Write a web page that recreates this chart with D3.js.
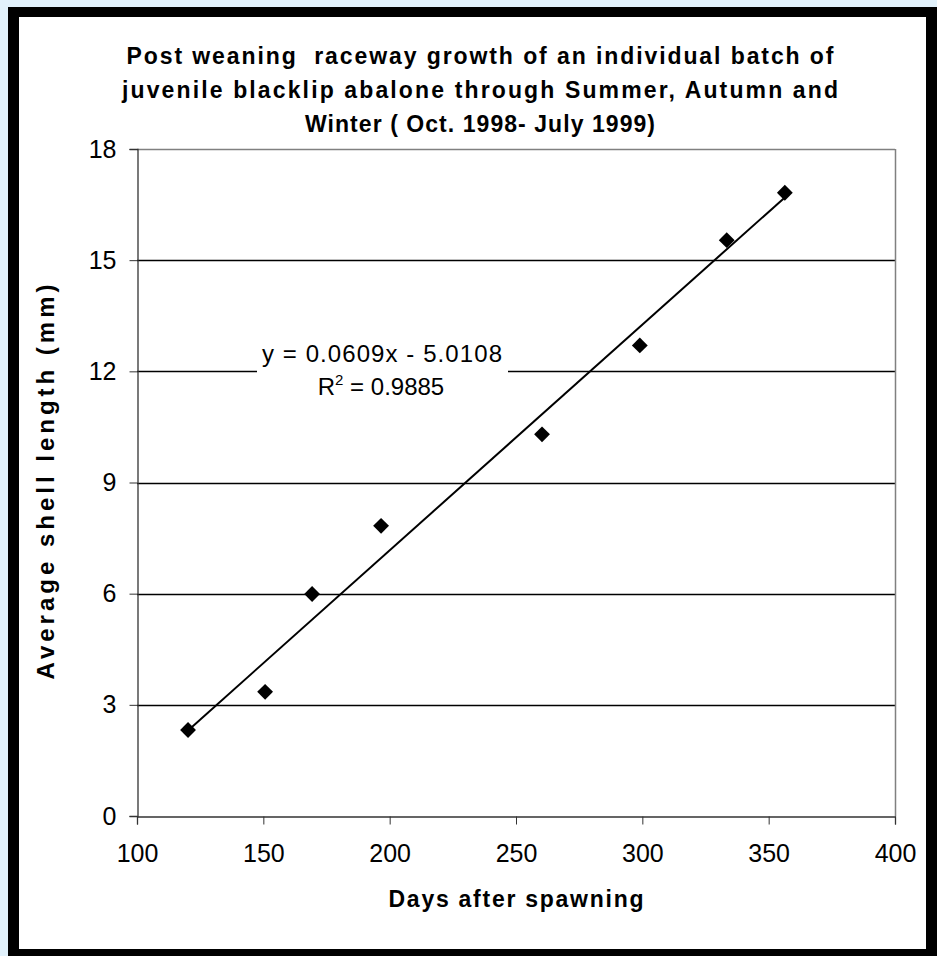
<!DOCTYPE html>
<html>
<head>
<meta charset="utf-8">
<script src="https://cdn.jsdelivr.net/npm/d3@7"></script>
<style>
body { margin:0; padding:0; background:#e1f1fb; }
svg { display:block; }
</style>
</head>
<body>
<div id="chartplace"></div>
<script>
// data
var days = [120.2, 150.7, 169.3, 196.6, 260.3, 299, 333.4, 356.4];
var shell = [2.32, 3.35, 5.99, 7.83, 10.3, 12.7, 15.54, 16.82];
var xTicks = [100, 150, 200, 250, 300, 350, 400];
var yTicks = [0, 3, 6, 9, 12, 15, 18];
var slope = 0.0609, intercept = -5.0108, rsq = 0.9885;
var titleLines = ["Post weaning  raceway growth of an individual batch of",
  "juvenile blacklip abalone through Summer, Autumn and",
  "Winter ( Oct. 1998- July 1999)"];

var width = 937, height = 956;
var font = "'Liberation Sans', Arial, sans-serif";
var svg = d3.select("#chartplace").append("svg")
  .attr("width", width).attr("height", height)
  .style("font-family", font);

// frame
svg.append("rect").attr("x", 0).attr("y", 0).attr("width", width).attr("height", height).attr("fill", "#e1f1fb");
svg.append("rect").attr("x", 8).attr("y", 7).attr("width", width - 8).attr("height", height - 7).attr("fill", "#000");
svg.append("rect").attr("x", 19).attr("y", 17).attr("width", 907).attr("height", 932).attr("fill", "#fff");

var x = d3.scaleLinear().domain([100, 400]).range([137, 895]);
var y = d3.scaleLinear().domain([0, 18]).range([816, 149]);

// gridlines
svg.append("g").selectAll("line")
  .data(yTicks.filter(function(d){ return d > 0; }))
  .enter().append("line")
  .attr("x1", x(100)).attr("x2", x(400))
  .attr("y1", function(d){ return Math.round(y(d)) + 0.5; })
  .attr("y2", function(d){ return Math.round(y(d)) + 0.5; })
  .attr("stroke", function(d){ return d == 18 ? "#808080" : "#000"; })
  .attr("stroke-width", 1.3);
// right edge
svg.append("line").attr("x1", x(400) + 0.5).attr("x2", x(400) + 0.5)
  .attr("y1", y(18)).attr("y2", y(0))
  .attr("stroke", "#808080").attr("stroke-width", 1.5);

// axes
var xAxis = svg.append("g").attr("transform", "translate(0," + (Math.round(y(0)) + 0.5) + ")")
  .call(d3.axisBottom(x).tickValues(xTicks).tickSize(8).tickPadding(20));
var yAxis = svg.append("g").attr("transform", "translate(" + (Math.round(x(100)) + 0.5) + ",0)")
  .call(d3.axisLeft(y).tickValues(yTicks).tickSize(8).tickPadding(13));
[xAxis, yAxis].forEach(function(a){
  a.select(".domain").attr("stroke", "#333").attr("stroke-width", 1.3);
  a.selectAll(".tick line").attr("stroke", "#333");
  a.selectAll(".tick text").attr("fill", "#000")
    .style("font-size", "25px").style("font-family", font);
});

// trend line
var line = d3.line().x(function(d){ return x(d); }).y(function(d){ return y(slope * d + intercept); });
svg.append("path")
  .attr("d", line([d3.min(days), d3.max(days)]))
  .attr("stroke", "#000").attr("stroke-width", 2).attr("fill", "none");

// points
var diamond = d3.symbol().type(d3.symbolDiamond2).size(160);
svg.append("g").selectAll("path")
  .data(days.map(function(d, i){ return [d, shell[i]]; }))
  .enter().append("path")
  .attr("d", diamond)
  .attr("transform", function(d){ return "translate(" + x(d[0]) + "," + y(d[1]) + ")"; })
  .attr("fill", "#000");

// equation label
svg.append("rect").attr("x", 257).attr("y", 338).attr("width", 251).attr("height", 66).attr("fill", "#fff");
svg.append("text").attr("x", 382).attr("y", 362).attr("text-anchor", "middle")
  .attr("textLength", 240)
  .style("font-size", "24px").text("y = " + slope + "x - " + Math.abs(intercept));
var r2 = svg.append("text").attr("x", 381).attr("y", 395).attr("text-anchor", "middle")
  .style("font-size", "24px");
r2.append("tspan").text("R");
r2.append("tspan").attr("dy", -10).style("font-size", "15px").text("2");
r2.append("tspan").attr("dy", 10).text(" = " + rsq);

// title
var titleW = [707, 716, 350];
svg.append("g").selectAll("text")
  .data(titleLines).enter().append("text")
  .attr("x", 480).attr("y", function(d, i){ return 64 + i * 34; })
  .attr("text-anchor", "middle")
  .attr("textLength", function(d, i){ return titleW[i]; })
  .style("white-space", "pre")
  .style("font-size", "23px").style("font-weight", "bold")
  .text(function(d){ return d; });

// axis titles
svg.append("text").attr("x", 516).attr("y", 907).attr("text-anchor", "middle")
  .attr("textLength", 255)
  .style("font-size", "23px").style("font-weight", "bold").text("Days after spawning");
svg.append("text").attr("transform", "translate(54,482) rotate(-90)").attr("text-anchor", "middle")
  .attr("textLength", 395)
  .style("font-size", "24px").style("font-weight", "bold").text("Average shell length (mm)");
</script>
</body>
</html>
